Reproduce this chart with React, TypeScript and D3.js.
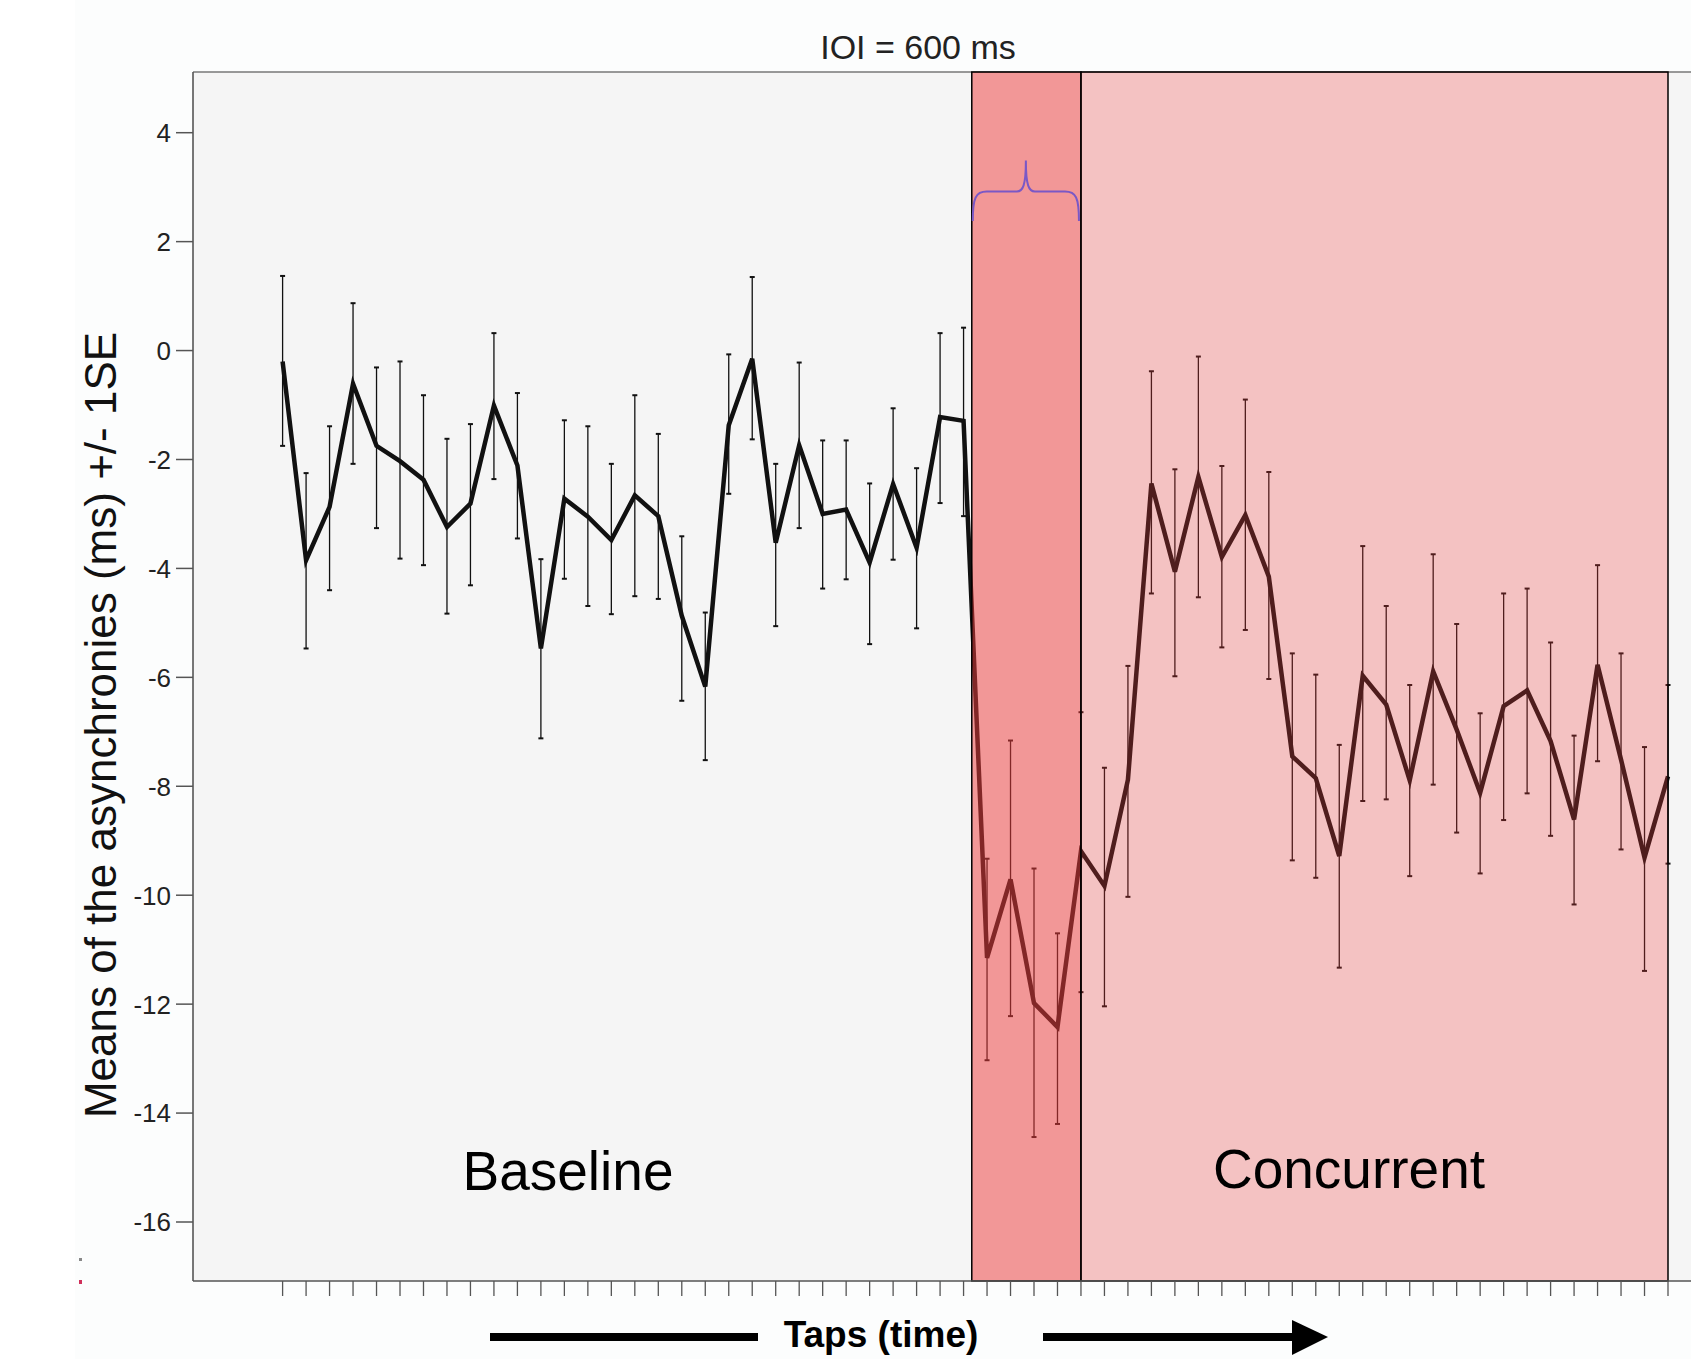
import * as d3 from 'd3';
import React from 'react';

// --------------------------------------------------------
// data (one value per tap)
// --------------------------------------------------------
const means = [
  -0.20, -3.85, -2.87, -0.61, -1.75, -2.03, -2.37, -3.24, -2.81, -1.01,
  -2.11, -5.47, -2.72, -3.05, -3.48, -2.66, -3.04, -4.87, -6.17, -1.37,
  -0.15, -3.53, -1.74, -3.00, -2.92, -3.89, -2.45, -3.62, -1.22, -1.29,
  -11.15, -9.71, -11.98, -12.42, -9.19, -9.83, -7.88, -2.44, -4.06, -2.32,
  -3.79, -3.02, -4.15, -7.45, -7.85, -9.28, -5.97, -6.50, -7.89, -5.89,
  -6.96, -8.12, -6.53, -6.24, -7.17, -8.61, -5.77, -7.51, -9.31, -7.82
];
const seTop = [
  1.37, -2.25, -1.39, 0.87, -0.31, -0.20, -0.82, -1.62, -1.35, 0.32,
  -0.78, -3.83, -1.28, -1.39, -2.08, -0.82, -1.53, -3.41, -4.81, -0.07,
  1.35, -2.08, -0.22, -1.65, -1.65, -2.44, -1.06, -2.16, 0.32, 0.42,
  -9.33, -7.16, -9.51, -10.70, -6.64, -7.66, -5.79, -0.38, -2.18, -0.11,
  -2.12, -0.90, -2.23, -5.56, -5.95, -7.24, -3.59, -4.69, -6.14, -3.74,
  -5.02, -6.66, -4.46, -4.37, -5.36, -7.07, -3.94, -5.56, -7.28, -6.14
];
const seBottom = [
  -1.75, -5.47, -4.40, -2.08, -3.26, -3.82, -3.94, -4.83, -4.31, -2.36,
  -3.45, -7.12, -4.19, -4.69, -4.84, -4.51, -4.56, -6.43, -7.52, -2.63,
  -1.63, -5.06, -3.26, -4.37, -4.20, -5.39, -3.84, -5.10, -2.80, -3.04,
  -13.03, -12.22, -14.44, -14.20, -11.78, -12.04, -10.03, -4.46, -5.98, -4.53,
  -5.45, -5.13, -6.03, -9.36, -9.68, -11.33, -8.27, -8.24, -9.65, -7.97,
  -8.85, -9.60, -8.62, -8.13, -8.91, -10.17, -7.54, -9.16, -11.39, -9.42
];

const yTicks = [4, 2, 0, -2, -4, -6, -8, -10, -12, -14, -16];

// phase shading, in tap units: [start, end]
const transitionSpan = [29.35, 34];
const concurrentSpan = [34, 59];
const braceLevels = { ends: 2.38, bar: 2.92, tip: 3.49 };

const titleText = 'IOI = 600 ms';
const yLabel = 'Means of the asynchronies (ms) +/- 1SE';
const xLabel = 'Taps (time)';

// --------------------------------------------------------
// layout
// --------------------------------------------------------
const W = 1691;
const H = 1359;
const frame = { left: 193, top: 72, bottom: 1281, right: 1700 };
const font = "'Liberation Sans', Arial, sans-serif";

function App() {
  const x = d3.scaleLinear().domain([0, means.length - 1]).range([282.6, 1668]);
  const y = d3.scaleLinear().domain([-16, 4]).range([1222, 132.7]);

  const line = d3.line<number>()
    .x((d, i) => x(i))
    .y(d => y(d));

  // curly brace over the transition block
  const bx0 = x(transitionSpan[0]) + 1;
  const bx1 = x(transitionSpan[1]) - 2;
  const bm = (bx0 + bx1) / 2;
  const yE = y(braceLevels.ends), yB = y(braceLevels.bar), yT = y(braceLevels.tip);
  const brace = d3.path();
  brace.moveTo(bx0, yE);
  brace.bezierCurveTo(bx0, yB + 6, bx0 + 3, yB, bx0 + 14, yB);
  brace.lineTo(bm - 9, yB);
  brace.bezierCurveTo(bm - 3, yB, bm, yB - 6, bm, yT);
  brace.bezierCurveTo(bm, yB - 6, bm + 3, yB, bm + 9, yB);
  brace.lineTo(bx1 - 14, yB);
  brace.bezierCurveTo(bx1 - 3, yB, bx1, yB + 6, bx1, yE);

  const ticksX = means.map((_, i) => i);

  return (
    <svg width={W} height={H} style={{ position: 'absolute', left: 0, top: 0, background: '#fff' }}
      fontFamily={font}>
      <rect x={75} y={0} width={W - 75} height={H} fill="#fcfdfd" />
      <rect x={79} y={1258} width={3} height={3} fill="#888" />
      <rect x={79} y={1280} width={3} height={4} fill="#d0305a" />

      {/* plot area */}
      <rect x={frame.left} y={frame.top} width={frame.right - frame.left}
        height={frame.bottom - frame.top} fill="#f5f5f5" />
      <line x1={frame.left} x2={frame.right} y1={frame.top} y2={frame.top} stroke="#777" strokeWidth={1.5} />

      {/* error bars */}
      {means.map((m, i) => (
        <g key={i} stroke="#111" strokeWidth={1.3}>
          <line x1={x(i)} x2={x(i)} y1={y(seTop[i])} y2={y(seBottom[i])} />
          <line x1={x(i) - 2.5} x2={x(i) + 2.5} y1={y(seTop[i])} y2={y(seTop[i])} strokeWidth={2} />
          <line x1={x(i) - 2.5} x2={x(i) + 2.5} y1={y(seBottom[i])} y2={y(seBottom[i])} strokeWidth={2} />
        </g>
      ))}

      {/* mean line */}
      <path d={line(means) || ''} fill="none" stroke="#111" strokeWidth={4.5} strokeLinejoin="miter" />

      {/* phase overlays */}
      <rect x={x(transitionSpan[0])} y={frame.top} width={x(transitionSpan[1]) - x(transitionSpan[0])}
        height={frame.bottom - frame.top} fill="rgb(240,60,60)" fillOpacity={0.51}
        stroke="#000" strokeWidth={1.5} />
      <rect x={x(concurrentSpan[0])} y={frame.top} width={x(concurrentSpan[1]) - x(concurrentSpan[0])}
        height={frame.bottom - frame.top} fill="rgb(240,60,60)" fillOpacity={0.28}
        stroke="#000" strokeWidth={1.5} />

      <path d={brace.toString()} fill="none" stroke="#7a58c6" strokeWidth={2} />

      {/* axes */}
      <line x1={frame.left} x2={frame.left} y1={frame.top} y2={frame.bottom} stroke="#555" strokeWidth={1.6} />
      <line x1={frame.left} x2={frame.right} y1={frame.bottom} y2={frame.bottom} stroke="#555" strokeWidth={1.6} />
      {yTicks.map(t => (
        <g key={t}>
          <line x1={frame.left - 17} x2={frame.left} y1={y(t)} y2={y(t)} stroke="#555" strokeWidth={1.5} />
          <text x={frame.left - 22} y={y(t)} dy="0.36em" textAnchor="end" fontSize={26} fill="#222">{t}</text>
        </g>
      ))}
      {ticksX.map(i => (
        <line key={i} x1={x(i)} x2={x(i)} y1={frame.bottom} y2={frame.bottom + 15} stroke="#555" strokeWidth={1.3} />
      ))}

      {/* texts */}
      <text x={918} y={59} textAnchor="middle" fontSize={34} fill="#222">{titleText}</text>
      <text transform="translate(116,725) rotate(-90)" textAnchor="middle" fontSize={44} fill="#111">{yLabel}</text>
      <text x={568} y={1190} textAnchor="middle" fontSize={55} fill="#000">Baseline</text>
      <text x={1349} y={1188} textAnchor="middle" fontSize={55} fill="#000">Concurrent</text>

      {/* time arrow */}
      <line x1={490} x2={758} y1={1337} y2={1337} stroke="#000" strokeWidth={8} />
      <text x={881} y={1347} textAnchor="middle" fontSize={37} fontWeight="bold" fill="#000">{xLabel}</text>
      <line x1={1043} x2={1298} y1={1337} y2={1337} stroke="#000" strokeWidth={8} />
      <path d="M1292,1320 L1328,1337 L1292,1355 Z" fill="#000" />
    </svg>
  );
}

export default App;
